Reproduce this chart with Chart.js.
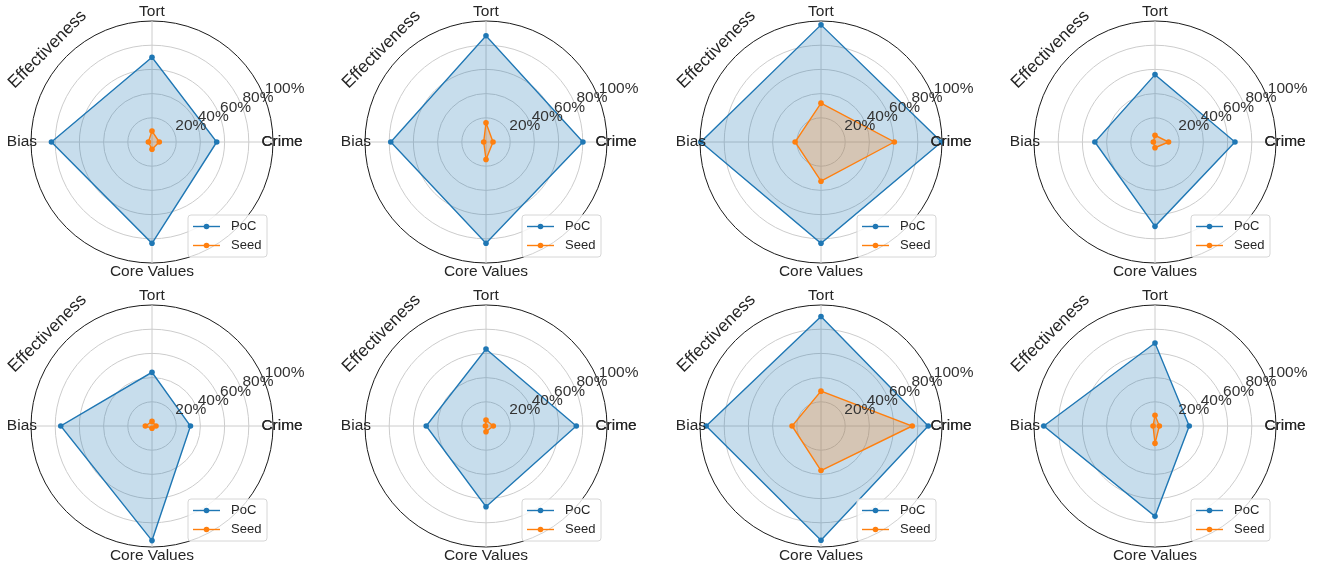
<!DOCTYPE html>
<html lang="en">
<head>
<meta charset="UTF-8">
<title>PoC vs Seed radar charts</title>
<script src="https://cdn.jsdelivr.net/npm/chart.js"></script>
<style>
  body { margin: 0; background: #fff; overflow: hidden; }
  #wrap { position: relative; width: 1319px; height: 569px; }
  #wrap canvas { position: absolute; }
</style>
</head>
<body>
<div id="wrap"></div>
<script>
// axis order as Chart.js walks it: clockwise, starting at the right
const categories = ['Crime', 'Core Values', 'Bias', 'Tort'];
const extraLabel = 'Effectiveness';
const tickValues = [20, 40, 60, 80, 100];
const seriesNames = ['PoC', 'Seed'];
const seriesColors = ['#1f77b4', '#ff7f0e'];

// one row per panel, values in % in the order of categories
const pocValues = [
  [53.5, 83.7, 83.1, 70.0],
  [80.1, 83.7, 78.7, 87.8],
  [99.6, 83.7, 99.3, 96.8],
  [66.1, 69.7, 49.7, 55.7],
  [31.8, 94.7, 75.4, 44.4],
  [74.6, 66.7, 49.4, 63.6],
  [88.6, 94.4, 94.9, 90.5],
  [28.3, 74.6, 91.9, 68.6]
];
const seedValues = [
  [6.0, 6.0, 3.0, 9.0],
  [5.8, 14.5, 1.9, 15.9],
  [60.6, 32.4, 21.4, 32.1],
  [11.2, 4.7, 1.4, 5.5],
  [3.3, 1.9, 5.5, 3.8],
  [6.0, 4.7, 0.5, 4.9],
  [75.4, 36.8, 23.9, 28.8],
  [3.6, 14.3, 1.6, 8.8]
];

const centersX = [153, 487, 822, 1156];
const centersY = [142, 426];
const FONT = '"Liberation Sans", Arial, sans-serif';

// labels, rotated label, %-ticks and legend, drawn on top of the radar
const overlay = {
  id: 'overlay',
  afterDraw(chart) {
    const ctx = chart.ctx;
    const s = chart.scales.r;
    const cx = s.xCenter, cy = s.yCenter, R = s.drawingArea;
    ctx.save();

    // radial tick labels at 22.5 degrees
    ctx.font = '15.5px ' + FONT;
    ctx.fillStyle = '#333333';
    ctx.textAlign = 'left';
    ctx.textBaseline = 'alphabetic';
    const a = 22.5 * Math.PI / 180;
    tickValues.forEach(v => {
      const d = s.getDistanceFromCenterForValue(v);
      ctx.fillText(v + '%', cx + d * Math.cos(a) + 1, cy - d * Math.sin(a) - 2.5);
    });

    // category labels
    ctx.fillStyle = '#262626';
    ctx.textAlign = 'center';
    ctx.textBaseline = 'middle';
    categories.forEach((c, i) => {
      const p = s.getPointPosition(i, R * 1.075);
      ctx.fillText(c, p.x, p.y);
      if (i === 0) ctx.fillText(c, p.x, p.y);
    });

    // Effectiveness, rotated
    ctx.save();
    ctx.translate(cx - 0.864 * R, cy - 0.765 * R);
    ctx.rotate(-Math.PI / 4);
    ctx.font = '17.3px ' + FONT;
    ctx.fillText(extraLabel, 0, 0);
    ctx.restore();

    // legend box
    const bx = cx + 36, by = cy + 73, bw = 79, bh = 42, rr = 3;
    ctx.beginPath();
    ctx.moveTo(bx + rr, by);
    ctx.arcTo(bx + bw, by, bx + bw, by + bh, rr);
    ctx.arcTo(bx + bw, by + bh, bx, by + bh, rr);
    ctx.arcTo(bx, by + bh, bx, by, rr);
    ctx.arcTo(bx, by, bx + bw, by, rr);
    ctx.closePath();
    ctx.fillStyle = 'rgba(255,255,255,0.8)';
    ctx.fill();
    ctx.strokeStyle = '#d6d6d6';
    ctx.lineWidth = 1;
    ctx.stroke();

    ctx.font = '13px ' + FONT;
    ctx.textAlign = 'left';
    seriesNames.forEach((name, i) => {
      const y = cy + 84.5 + i * 19;
      ctx.strokeStyle = seriesColors[i];
      ctx.lineWidth = 1.4;
      ctx.beginPath();
      ctx.moveTo(cx + 41, y);
      ctx.lineTo(cx + 68, y);
      ctx.stroke();
      ctx.fillStyle = seriesColors[i];
      ctx.beginPath();
      ctx.arc(cx + 54.5, y, 2.8, 0, Math.PI * 2);
      ctx.fill();
      ctx.fillStyle = '#262626';
      ctx.fillText(name, cx + 79, y);
    });

    ctx.restore();
  }
};

const wrap = document.getElementById('wrap');
const W = 334, H = 284;

pocValues.forEach((poc, k) => {
  const col = k % 4, row = Math.floor(k / 4);
  const canvas = document.createElement('canvas');
  canvas.width = W;
  canvas.height = H;
  canvas.style.width = W + 'px';
  canvas.style.height = H + 'px';
  canvas.style.left = (centersX[col] - W / 2) + 'px';
  canvas.style.top = (centersY[row] - H / 2) + 'px';
  wrap.appendChild(canvas);

  new Chart(canvas, {
    type: 'radar',
    data: {
      labels: categories,
      datasets: [
        {
          label: seriesNames[0],
          data: poc,
          order: 1,
          borderColor: seriesColors[0],
          backgroundColor: 'rgba(31,119,180,0.25)',
          pointBackgroundColor: seriesColors[0],
          pointBorderWidth: 0,
          pointRadius: 2.8,
          borderWidth: 1.4,
          fill: true
        },
        {
          label: seriesNames[1],
          data: seedValues[k],
          order: 0,
          borderColor: seriesColors[1],
          backgroundColor: 'rgba(255,127,14,0.25)',
          pointBackgroundColor: seriesColors[1],
          pointBorderWidth: 0,
          pointRadius: 2.8,
          borderWidth: 1.4,
          fill: true
        }
      ]
    },
    options: {
      responsive: false,
      animation: false,
      devicePixelRatio: 1,
      layout: { padding: { left: 45, right: 46, top: 21, bottom: 20 } },
      plugins: {
        legend: { display: false },
        tooltip: { enabled: false }
      },
      scales: {
        r: {
          min: 0,
          max: 100,
          startAngle: 90,
          ticks: { display: false, stepSize: 20 },
          pointLabels: { display: false },
          grid: {
            circular: true,
            lineWidth: 1,
            color: c => (c.tick && c.tick.value === 100) ? '#1a1a1a' : '#cccccc'
          },
          angleLines: { color: '#cccccc', lineWidth: 1 }
        }
      }
    },
    plugins: [overlay]
  });
});
</script>
</body>
</html>
